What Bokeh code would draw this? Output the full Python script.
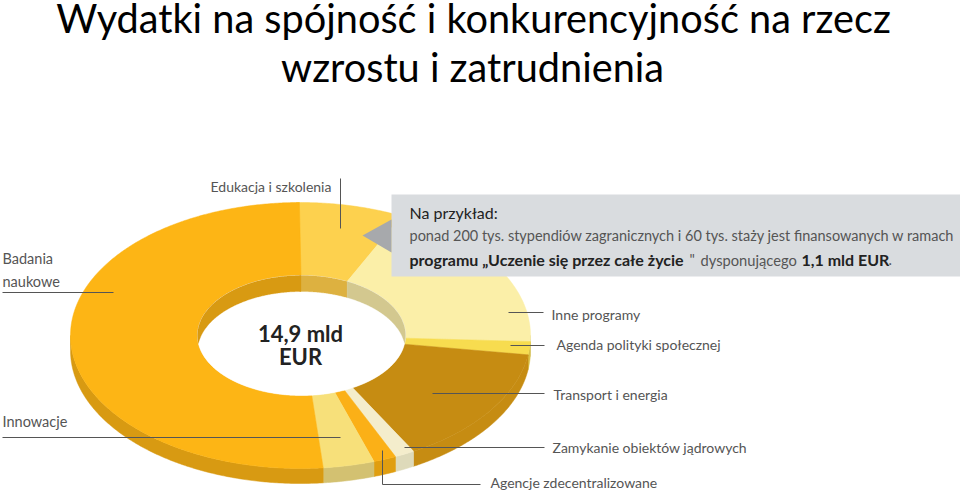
import numpy as np
from bokeh.plotting import figure
from bokeh.models import Range1d
from bokeh.core.properties import value
from bokeh.embed import file_html
from bokeh.resources import INLINE

categories = ["Edukacja i szkolenia", "Inne programy", "Agenda polityki społecznej",
              "Transport i energia", "Zamykanie obiektów jądrowych",
              "Agencje zdecentralizowane", "Innowacje", "Badania naukowe"]
shares = [7.5, 18.5, 1.6, 14.5, 1.4, 1.6, 3.6, 51.5]
face_colors = ["#FDD14E", "#FBEFA8", "#F7DC4F", "#C68C12", "#F4EDCC", "#FBB017", "#F7E07A", "#FDB515"]
wall_colors = ["#DDB140", "#D3C88F", "#D9C045", "#C68C12", "#DEDABA", "#E09E10", "#D3C171", "#D89A12"]
title_lines = ["Wydatki na spójność i konkurencyjność na rzecz", "wzrostu i zatrudnienia"]
center_lines = ["14,9 mld", "EUR"]

CX, CY, RX, RY = 300, 335, 230, 133
IX, IY = 104, 60
DEPTH_OUT, DEPTH_IN = 15, 16
START = -1.0
LATO = value("Lato")
GREY = "#555555"

p = figure(width=960, height=496, output_backend="svg", toolbar_location=None,
           x_range=Range1d(0, 960), y_range=Range1d(496, 0),
           min_border=0, outline_line_color=None, background_fill_color="white",
           margin=(0, 0, 0, 0))
p.axis.visible = False
p.grid.visible = False

edges = START + np.cumsum([0] + shares) * 3.6

def arc(a, b, rx, ry, cx=CX, cy=CY):
    t = np.radians(np.linspace(a, b, max(int(abs(b - a) * 2), 3)))
    return cx + rx * np.sin(t), cy - ry * np.cos(t)

# outer wall (front half only)
for a, b, c in zip(edges[:-1], edges[1:], wall_colors):
    lo, hi = max(a, 90), min(b, 270)
    if hi <= lo:
        continue
    x, y = arc(lo, hi, RX, RY)
    p.patch(np.r_[x, x[::-1]], np.r_[y, y[::-1] + DEPTH_OUT], fill_color=c, line_color=c, line_width=0.5)

# top face
for a, b, c in zip(edges[:-1], edges[1:], face_colors):
    xo, yo = arc(a, b, RX, RY)
    xi, yi = arc(a, b, IX, IY, cx=CX + 1)
    p.patch(np.r_[xo, xi[::-1]], np.r_[yo, yi[::-1]], fill_color=c, line_color=c, line_width=0.5)

# hole and inner wall (back half only)
hx, hy = arc(0, 360, IX, IY, cx=CX + 1)
p.patch(hx, hy, fill_color="white", line_color="white", line_width=0.5)
for a, b, c in zip(edges[:-1], edges[1:], wall_colors):
    for lo, hi in ((max(a, -90), min(b, 90)), (max(a, 270), min(b, 360))):
        if hi <= lo:
            continue
        x, y = arc(lo, hi, IX, IY, cx=CX + 1)
        bottom = np.minimum(y + DEPTH_IN, 2 * CY - y)
        p.patch(np.r_[x, x[::-1]], np.r_[y, bottom[::-1]], fill_color=c, line_color=c, line_width=0.3)

# callout
p.quad(left=391, right=960, top=194, bottom=276, fill_color="#D9DCDF", line_color=None)
p.patch([362, 391, 391], [235, 219, 252], fill_color="#A7A9AC", line_color=None)

# leaders
for xs, ys in [([340, 340], [178, 228]), ([2, 113], [292, 292]), ([2, 340], [437, 437]),
               ([508, 543], [312, 312]), ([510, 544], [345, 345]), ([432, 544], [393, 393]),
               ([404, 544], [447, 447]), ([382, 382, 480], [450, 484, 484])]:
    p.line(xs, ys, line_color=GREY, line_width=1)

def label(x, y, s, size=14, color="#555555", style="normal", align="left", font=LATO):
    p.text([x], [y], text=[s], text_font=font, text_font_size=f"{size}px", text_color=color,
           text_font_style=style, text_align=align, text_baseline="middle")

label(473, 17, title_lines[0], size=39.7, color="#000000", align="center")
label(472, 66, title_lines[1], size=39.7, color="#000000", align="center")

label(210, 186, categories[0])
label(2, 258, "Badania", size=14.5)
label(2, 281, "naukowe", size=14.5)
label(2, 421, categories[6], size=14.5)
label(551, 314, categories[1])
label(556, 344, categories[2])
label(553, 394, categories[3])
label(552, 447, categories[4])
label(490, 482, categories[5])

label(300, 333, center_lines[0], size=22, color="#222222", style="bold", align="center")
label(300, 356, center_lines[1], size=22, color="#222222", style="bold", align="center")

label(409, 212, "Na przykład:", size=16, color="#222222")
label(409, 235, "ponad 200 tys. stypendiów zagranicznych i 60 tys. staży jest finansowanych w ramach", size=14.5)
label(409, 259, "programu „Uczenie się przez całe życie", size=16, color="#222222", style="bold")
label(689, 259, "\"", size=14.5)
label(700, 259, "dysponującego", size=14.7)
label(801, 259, "1,1 mld EUR", size=16, color="#222222", style="bold")
label(888, 259, ".", size=14.5)

open("out.html", "w").write(file_html(p, INLINE))
